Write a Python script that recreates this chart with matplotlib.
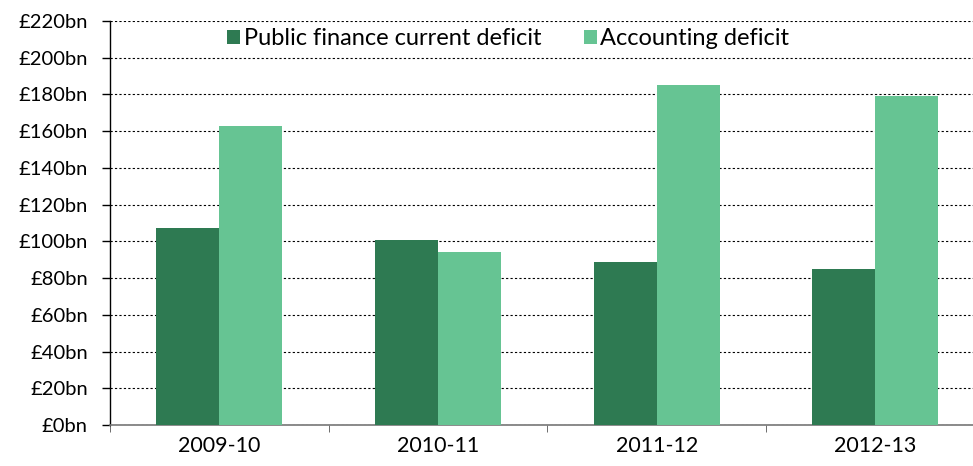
import matplotlib.pyplot as plt
import numpy as np

years = ['2009-10', '2010-11', '2011-12', '2012-13']
public_finance = [107, 101, 89, 85]
accounting = [163, 94, 185, 179]
yticks = list(range(0, 221, 20))

plt.rcParams['font.family'] = ['Lato', 'DejaVu Sans']

fig = plt.figure(figsize=(9.73, 4.66), dpi=100)
ax = fig.add_axes([0.113, 0.088, 0.899, 0.867])

x = np.arange(len(years))
w = 0.288
ax.bar(x - w / 2, public_finance, w, color='#2E7A52', label='Public finance current deficit', zorder=3)
ax.bar(x + w / 2, accounting, w, color='#66C493', label='Accounting deficit', zorder=3)

ax.set_xlim(-0.5, len(years) - 0.5)
ax.set_ylim(0, 220)
ax.set_yticks(yticks)
ax.set_yticklabels([f'£{v}bn' for v in yticks], fontsize=14.5)
ax.set_xticks(x)
ax.set_xticklabels(years, fontsize=15.5)
ax.tick_params(axis='x', length=0, pad=8)
ax.set_xticks(np.arange(len(years) + 1) - 0.5, minor=True)
ax.tick_params(axis='x', which='minor', length=5, color='#555555')
ax.tick_params(axis='y', length=6, width=1, pad=10)

ax.grid(axis='y', linestyle=(0, (2, 2)), color='black', linewidth=0.8, zorder=0)
for s in ['top', 'right']:
    ax.spines[s].set_visible(False)
ax.spines['bottom'].set_color('#777777')
ax.spines['bottom'].set_linewidth(1.2)
ax.spines['left'].set_linewidth(1)

ax.legend(loc='upper left', bbox_to_anchor=(0.11, 1.035), ncol=2, frameon=False,
          fontsize=17, handlelength=0.55, handleheight=0.55, handletextpad=0.15,
          columnspacing=1.8)

fig.savefig('out.png', dpi=100)
